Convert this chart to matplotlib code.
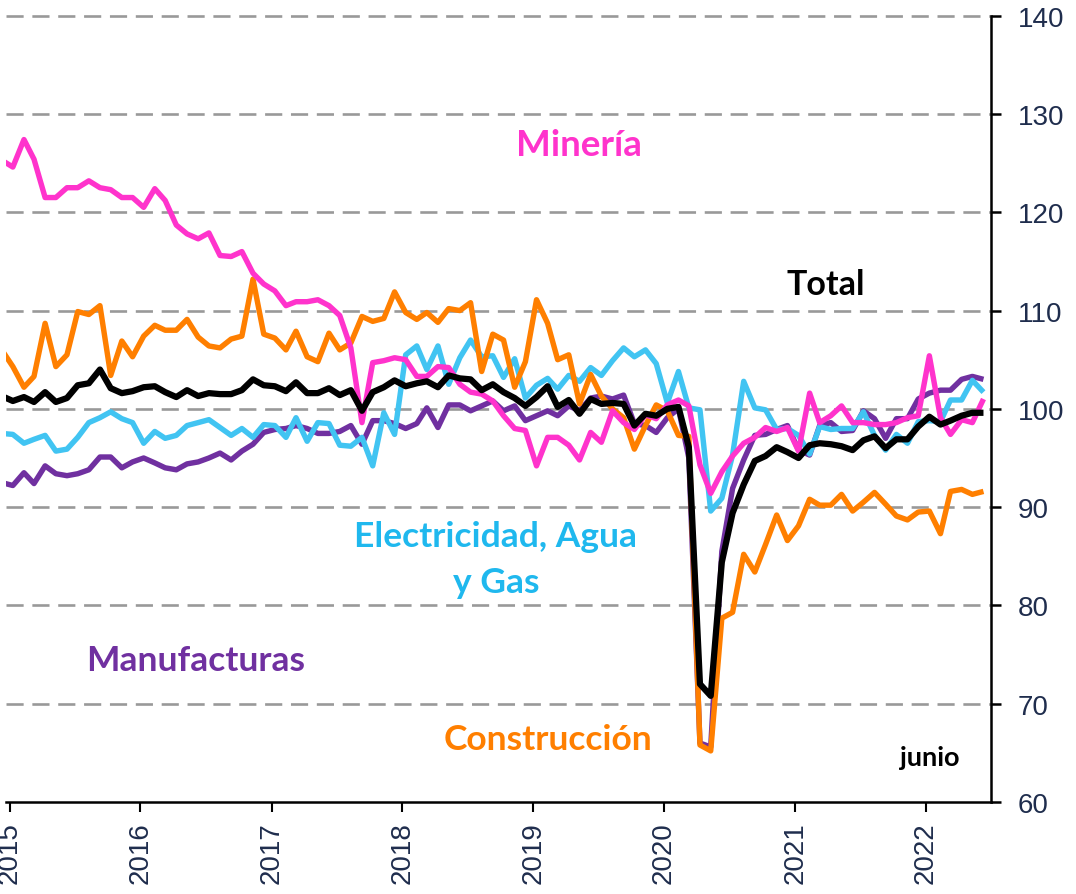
import numpy as np
import pandas as pd
import matplotlib
matplotlib.use("Agg")
import matplotlib.pyplot as plt
from datetime import datetime

# ---- data (monthly index, Dec-2014 .. Jun-2022) ----
dates = pd.date_range("2014-12-01", "2022-06-01", freq="MS") + pd.Timedelta(days=9)

mineria = [125.3, 124.6, 127.4, 125.4, 121.5, 121.5, 122.5, 122.5, 123.2, 122.5, 122.3, 121.5, 121.5,
           120.5, 122.4, 121.2, 118.7, 117.8, 117.3, 117.9, 115.6, 115.5, 116.0, 113.8, 112.7,
           112.0, 110.5, 110.9, 110.9, 111.1, 110.5, 109.5, 106.2, 98.6, 104.7, 104.9, 105.2,
           105.0, 103.3, 103.3, 104.3, 104.2, 102.5, 101.7, 101.5, 100.8, 99.3, 98.0, 97.8,
           94.2, 97.1, 97.1, 96.3, 94.8, 97.6, 96.6, 99.8, 98.6, 97.9, 99.4, 99.0,
           100.4, 100.9, 100.3, 94.3, 91.4, 93.6, 95.2, 96.5, 97.1, 98.1, 97.7, 98.1,
           95.7, 101.6, 98.6, 99.3, 100.3, 98.6, 98.6, 98.4, 98.4, 98.6, 99.1, 99.3,
           105.4, 99.1, 97.4, 98.9, 98.6, 101.0]

construccion = [106.0, 104.3, 102.2, 103.3, 108.7, 104.3, 105.5, 109.9, 109.6, 110.5, 103.4, 106.9, 105.3,
                107.4, 108.5, 108.0, 108.0, 109.1, 107.3, 106.4, 106.2, 107.1, 107.4, 113.2, 107.6,
                107.2, 106.0, 107.9, 105.3, 104.8, 107.7, 106.0, 106.7, 109.4, 108.9, 109.2, 111.9,
                109.8, 109.1, 109.8, 108.8, 110.2, 110.0, 110.8, 103.8, 107.6, 107.0, 102.2, 104.8,
                111.1, 108.7, 105.0, 105.5, 100.5, 103.5, 101.3, 100.0, 99.1, 95.9, 98.3, 100.4,
                99.8, 97.3, 97.2, 65.8, 65.2, 78.7, 79.3, 85.2, 83.4, 86.2, 89.2, 86.6,
                88.1, 90.8, 90.2, 90.2, 91.3, 89.6, 90.5, 91.5, 90.3, 89.1, 88.7, 89.5,
                89.6, 87.3, 91.6, 91.8, 91.3, 91.6]

total = [101.3, 100.8, 101.2, 100.7, 101.7, 100.7, 101.1, 102.4, 102.6, 104.0, 102.1, 101.6, 101.8,
         102.2, 102.3, 101.7, 101.2, 101.9, 101.3, 101.6, 101.5, 101.5, 101.9, 103.0, 102.4,
         102.3, 101.8, 102.7, 101.6, 101.6, 102.1, 101.4, 101.9, 99.8, 101.7, 102.2, 102.9,
         102.3, 102.6, 102.8, 102.2, 103.4, 103.1, 103.0, 101.9, 102.5, 101.7, 101.1, 100.3,
         101.2, 102.3, 100.2, 100.9, 99.5, 101.0, 100.5, 100.6, 100.5, 98.3, 99.5, 99.3,
         100.0, 100.2, 96.1, 72.0, 70.8, 84.4, 89.4, 92.3, 94.7, 95.2, 96.1, 95.6,
         95.0, 96.3, 96.5, 96.4, 96.2, 95.8, 96.8, 97.2, 96.0, 96.9, 96.9, 98.2,
         99.2, 98.4, 98.8, 99.3, 99.6, 99.6]

electricidad = [97.5, 97.4, 96.5, 96.9, 97.3, 95.7, 95.9, 97.1, 98.6, 99.1, 99.7, 99.0, 98.6,
                96.5, 97.7, 97.0, 97.3, 98.3, 98.6, 98.9, 98.1, 97.3, 98.0, 97.1, 98.4,
                98.3, 97.1, 99.1, 96.7, 98.6, 98.5, 96.3, 96.2, 97.1, 94.2, 99.6, 97.4,
                105.5, 106.4, 104.0, 106.4, 102.5, 105.2, 107.0, 105.3, 105.4, 103.2, 105.1, 101.1,
                102.4, 103.1, 102.0, 103.4, 102.8, 104.2, 103.4, 104.9, 106.2, 105.3, 106.0, 104.6,
                100.6, 103.8, 100.1, 99.9, 89.6, 90.9, 95.3, 102.8, 100.1, 99.9, 97.9, 98.0,
                97.3, 95.4, 98.2, 97.9, 98.0, 98.0, 99.7, 97.3, 95.8, 97.4, 96.5, 98.7,
                98.8, 98.7, 100.9, 100.9, 102.9, 101.7]

manufacturas = [92.5, 92.2, 93.5, 92.4, 94.2, 93.4, 93.2, 93.4, 93.8, 95.1, 95.1, 94.0, 94.6,
                95.0, 94.5, 94.0, 93.8, 94.4, 94.6, 95.0, 95.5, 94.8, 95.7, 96.4, 97.6,
                97.9, 98.0, 98.3, 98.0, 97.5, 97.5, 97.7, 98.3, 96.4, 98.8, 98.8, 98.5,
                98.0, 98.5, 100.1, 98.1, 100.4, 100.4, 99.8, 100.3, 100.8, 99.8, 100.3, 98.8,
                99.3, 99.8, 99.3, 100.3, 99.8, 101.1, 101.3, 101.0, 101.4, 98.5, 98.3, 97.6,
                99.1, 100.0, 95.0, 66.0, 65.6, 85.5, 91.9, 94.8, 97.3, 97.4, 97.9, 98.3,
                95.8, 95.3, 98.3, 98.6, 97.7, 97.8, 99.8, 99.0, 97.0, 99.0, 99.0, 101.0,
                101.6, 101.9, 101.9, 103.0, 103.3, 103.0]

years = list(range(2015, 2023))
yticks = list(range(60, 141, 10))

# ---- figure ----
W, H = 1076, 895
fig = plt.figure(figsize=(W / 100, H / 100), dpi=100)
ax = fig.add_axes([6.4 / W, 92 / H, (991 - 6.4) / W, (878.3 - 92) / H])

series = [
    (manufacturas, "#7030A0", 3.9),
    (electricidad, "#41C4F2", 3.9),
    (construccion, "#FF7F00", 3.9),
    (mineria, "#FF33CC", 3.9),
    (total, "#000000", 4.5),
]
for vals, col, lw in series:
    ax.plot(dates, vals, color=col, lw=lw, solid_joinstyle="round", solid_capstyle="butt", zorder=3)

ax.set_ylim(60, 140)
ax.set_xlim(datetime(2014, 12, 23), datetime(2022, 7, 1))

ax.set_yticks(yticks)
ax.yaxis.tick_right()
ax.set_xticks([datetime(y, 1, 1) for y in years])
ax.set_xticklabels([str(y) for y in years], rotation=90)

for y in yticks[1:]:
    ax.axhline(y, color="#999999", lw=1.9, linestyle=(0, (6.5, 3.3)), zorder=1, clip_on=False)

for s in ["left", "top"]:
    ax.spines[s].set_visible(False)
for s in ["right", "bottom"]:
    ax.spines[s].set_linewidth(1.8)
    ax.spines[s].set_color("black")
    ax.spines[s].set_zorder(4)

tickcol = "#1F2D4D"
ax.tick_params(axis="y", which="major", right=True, left=False, direction="out", length=7,
               width=1.8, pad=12, labelsize=20, labelcolor=tickcol)
ax.tick_params(axis="x", which="major", bottom=True, direction="out", length=7,
               width=1.5, pad=7, labelsize=20, labelcolor=tickcol)
for lab in ax.get_xticklabels() + ax.get_yticklabels():
    lab.set_fontfamily("Liberation Sans")

def label(x, y, txt, col, size=25.5):
    fig.text(x / W, 1 - y / H, txt, color=col, fontsize=size, fontweight="bold",
             family="Lato", ha="center", va="center")

label(579, 145, "Minería", "#FF33CC", 26.5)
label(826, 285, "Total", "#000000", 24.5)
label(496, 537, "Electricidad, Agua", "#1FB8EE")
label(496, 583, "y Gas", "#1FB8EE")
label(196, 661, "Manufacturas", "#7030A0")
label(548, 740, "Construcción", "#FF7F00")
label(930, 758, "junio", "#000000", 19.5)

fig.savefig("out.png", dpi=100)
